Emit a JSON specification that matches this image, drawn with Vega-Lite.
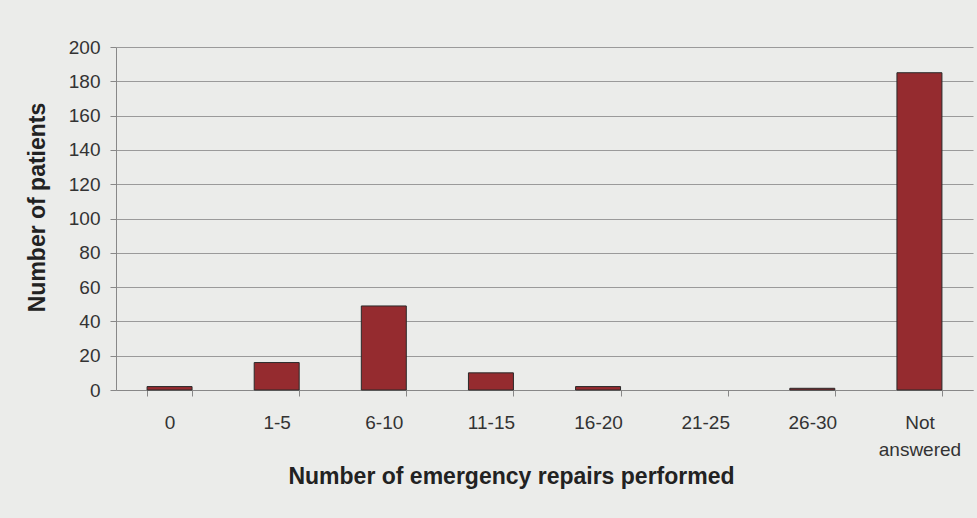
{
  "$schema": "https://vega.github.io/schema/vega-lite/v6.json",
  "width": 857,
  "height": 343,
  "autosize": {"type": "none"},
  "padding": {"left": 116, "top": 47, "right": 4, "bottom": 128},
  "background": "#ebecea",
  "config": {
    "view": {"stroke": null},
    "font": "Liberation Sans"
  },
  "data": {
    "values": [
      {"category": "0", "patients": 2},
      {"category": "1-5", "patients": 16},
      {"category": "6-10", "patients": 49},
      {"category": "11-15", "patients": 10},
      {"category": "16-20", "patients": 2},
      {"category": "21-25", "patients": 0},
      {"category": "26-30", "patients": 1},
      {"category": "Not answered", "patients": 185}
    ]
  },
  "mark": {"type": "bar", "color": "#952b2f", "stroke": "#2a2a2a", "strokeWidth": 1},
  "encoding": {
    "strokeOpacity": {"condition": {"test": "datum.patients == 0", "value": 0}, "value": 1},
    "x": {
      "field": "category",
      "type": "nominal",
      "sort": null,
      "scale": {"paddingInner": 0.58, "paddingOuter": 0.29},
      "axis": {
        "title": "Number of emergency repairs performed",
        "titleFont": "Liberation Sans",
        "titleFontSize": 23,
        "titleFontWeight": "bold",
        "titleColor": "#222222",
        "titleX": 395,
        "titleY": 93,
        "titleBaseline": "alphabetic",
        "titleAlign": "center",
        "labelAngle": 0,
        "labelFontSize": 19,
        "labelColor": "#333333",
        "labelPadding": 17,
        "labelBaseline": "top",
        "labelLineHeight": 27,
        "labelExpr": "datum.label == 'Not answered' ? ['Not', 'answered'] : datum.label",
        "tickBand": "extent",
        "tickSize": 6,
        "tickColor": "#888888",
        "domainColor": "#888888",
        "grid": false
      }
    },
    "y": {
      "field": "patients",
      "type": "quantitative",
      "scale": {"domain": [0, 200], "nice": false},
      "axis": {
        "title": "Number of patients",
        "titleFont": "Liberation Sans",
        "titleFontSize": 23,
        "titleFontWeight": "bold",
        "titleColor": "#222222",
        "titleX": -79,
        "titleY": 160,
        "titleAlign": "center",
        "titleBaseline": "middle",
        "values": [0, 20, 40, 60, 80, 100, 120, 140, 160, 180, 200],
        "labelFontSize": 19,
        "labelColor": "#333333",
        "labelPadding": 10,
        "tickSize": 6,
        "tickColor": "#888888",
        "domainColor": "#888888",
        "gridColor": "#9a9a9a",
        "gridWidth": 1
      }
    }
  }
}
